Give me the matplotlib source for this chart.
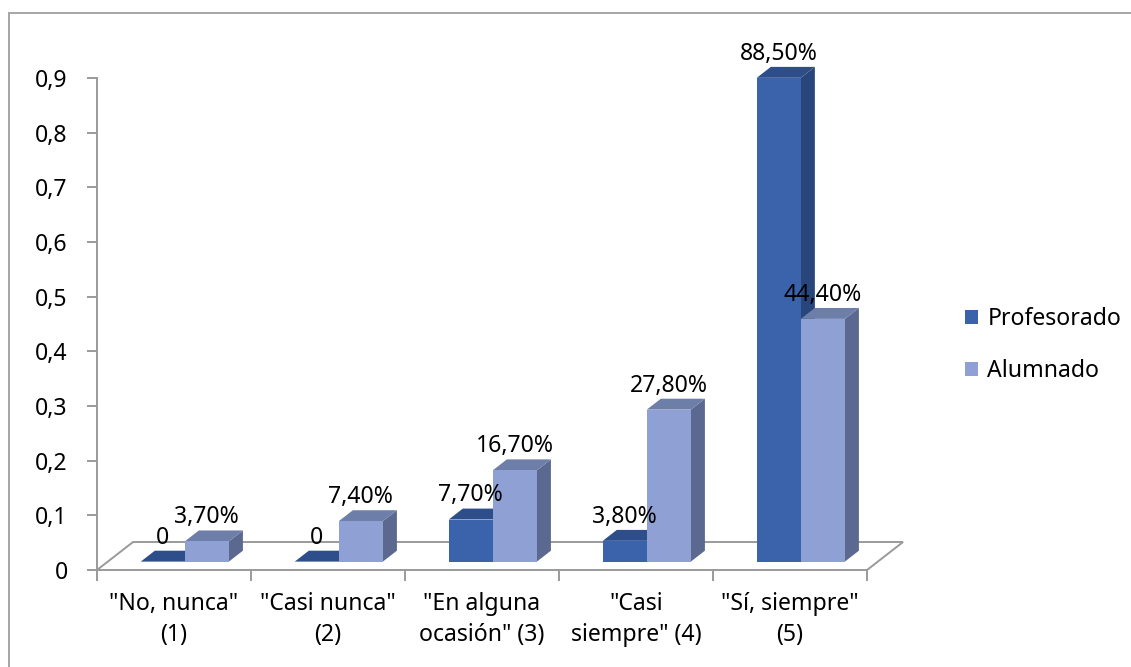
import numpy as np
import matplotlib
matplotlib.use("Agg")
import matplotlib.pyplot as plt
from matplotlib.patches import Polygon, Patch
from matplotlib.lines import Line2D

plt.rcParams['font.family'] = ['Noto Sans', 'DejaVu Sans']

# data
categories = ['"No, nunca"\n(1)', '"Casi nunca"\n(2)', '"En alguna\nocasión" (3)',
              '"Casi\nsiempre" (4)', '"Sí, siempre"\n(5)']
profesorado = [0.0, 0.0, 0.077, 0.038, 0.885]
alumnado = [0.037, 0.074, 0.167, 0.278, 0.444]
series_names = ['Profesorado', 'Alumnado']
yticks = [0, 0.1, 0.2, 0.3, 0.4, 0.5, 0.6, 0.7, 0.8, 0.9]

# colours: front, top, side
prof_cols = ('#3b63ab', '#2d4e8a', '#28467c')
alum_cols = ('#8fa1d4', '#6d7ea8', '#5b6990')
grid_col = '#9a9a9a'

W, H = 1131, 667
fig = plt.figure(figsize=(W / 100, H / 100), dpi=100)
ax = fig.add_axes([97 / W, (H - 570) / H, 770 / W, 492 / H])
ax.set_xlim(0, 5)
ax.set_ylim(0, 0.9)

# fake 3d depth (in data units)
dx, dy = 0.234, 0.0512
f0, f1 = 0.30, 0.69
bw = 0.286
fs = 16.6


def box(x0, h, cols):
    ox0, oy0 = f0 * dx, f0 * dy
    ox1, oy1 = f1 * dx, f1 * dy
    x1 = x0 + bw
    if h > 0:
        side = [(x1 + ox0, oy0), (x1 + ox1, oy1), (x1 + ox1, h + oy1), (x1 + ox0, h + oy0)]
        ax.add_patch(Polygon(side, closed=True, fc=cols[2], ec='none', clip_on=False, zorder=3))
    top = [(x0 + ox0, h + oy0), (x1 + ox0, h + oy0), (x1 + ox1, h + oy1), (x0 + ox1, h + oy1)]
    ax.add_patch(Polygon(top, closed=True, fc=cols[1], ec='none', clip_on=False, zorder=3))
    if h > 0:
        front = [(x0 + ox0, oy0), (x1 + ox0, oy0), (x1 + ox0, h + oy0), (x0 + ox0, h + oy0)]
        ax.add_patch(Polygon(front, closed=True, fc=cols[0], ec='none', clip_on=False, zorder=3))
    return x0 + ox0 + bw / 2, h + oy0


def fmt(v):
    if v == 0:
        return '0'
    return ('%.2f%%' % (v * 100)).replace('.', ',')


# floor
floor = [(0, 0), (5, 0), (5 + dx, dy), (dx, dy)]
ax.add_patch(Polygon(floor, closed=True, fc='white', ec=grid_col, lw=1.4, clip_on=False, zorder=2))

gap = (1 - 2 * bw) / 2
for i in range(len(categories)):
    for vals, cols, k in ((profesorado, prof_cols, 0), (alumnado, alum_cols, 1)):
        cx, ty = box(i + gap + k * bw, vals[i], cols)
        ax.text(cx, ty + 0.033, fmt(vals[i]), ha='center', va='baseline',
                fontsize=fs, color='black', zorder=5)

# axes styling
for s in ['top', 'right', 'bottom']:
    ax.spines[s].set_visible(False)
ax.spines['left'].set_color(grid_col)
ax.spines['left'].set_linewidth(1.4)
ax.set_yticks(yticks)
ax.set_yticklabels([('%g' % t).replace('.', ',') for t in yticks])
ax.set_xticks(np.arange(6))
ax.set_xticklabels([])
ax.set_xticks(np.arange(5) + 0.5, categories, minor=True)
ax.tick_params(axis='y', direction='out', length=7, width=1.4, color=grid_col,
               labelsize=fs, pad=14)
ax.tick_params(axis='x', which='major', direction='out', length=8, width=1.4, color=grid_col)
ax.tick_params(axis='x', which='minor', length=0, labelsize=fs, pad=16)
for lab in ax.get_xticklabels(minor=True):
    lab.set_linespacing(1.4)

handles = [Patch(fc=prof_cols[0], ec='none'), Patch(fc=alum_cols[0], ec='none')]
fig.legend(handles, series_names, loc='center left', bbox_to_anchor=(944 / W, 1 - 345 / H),
           frameon=False, fontsize=fs, handlelength=0.58, handleheight=0.58,
           handletextpad=0.4, labelspacing=1.2)

# chart border (left and top only visible)
fig.add_artist(Line2D([8.5 / W, 8.5 / W], [0, 1 - 12.5 / H], color='#a6a6a6', lw=1.4))
fig.add_artist(Line2D([8.5 / W, 1], [1 - 12.5 / H, 1 - 12.5 / H], color='#a6a6a6', lw=1.4))

fig.savefig('out.png', dpi=100)
